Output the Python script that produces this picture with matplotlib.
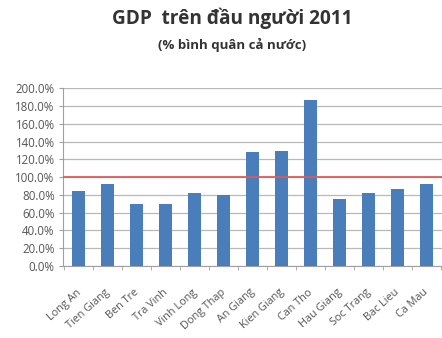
import matplotlib
matplotlib.use("Agg")
import matplotlib.pyplot as plt
import matplotlib.transforms as mtransforms
from matplotlib.ticker import FuncFormatter, MultipleLocator

provinces = ["Long An", "Tien Giang", "Ben Tre", "Tra Vinh", "Vinh Long", "Dong Thap",
             "An Giang", "Kien Giang", "Can Tho", "Hau Giang", "Soc Trang", "Bac Lieu", "Ca Mau"]
gdp_pct = [84.7, 91.9, 69.7, 69.7, 81.7, 79.5, 128.6, 129.4, 186.7, 75.4, 81.7, 86.6, 92.6]
reference_level = 100.0
title = "GDP  trên đầu người 2011"
subtitle = "(% bình quân cả nước)"

plt.rcParams['font.family'] = ['Open Sans', 'DejaVu Sans']

fig = plt.figure(figsize=(4.42, 3.38), dpi=100)
ax = fig.add_axes([0.1425, 0.213, 0.8575, 0.526])

x = range(len(provinces))
ax.bar(x, gdp_pct, width=0.45, color="#4a7ebb", zorder=3)
ax.axhline(reference_level, color="#e05a5a", lw=1.3, zorder=4)

ax.set_ylim(0, 200)
ax.set_xlim(-0.55, len(provinces) - 0.45)
ax.yaxis.set_major_locator(MultipleLocator(20))
ax.yaxis.set_major_formatter(FuncFormatter(lambda v, p: f"{v:.1f}%"))
ax.grid(axis="y", color="#b8b8b8", lw=0.9, zorder=0)
for s in ["top", "right"]:
    ax.spines[s].set_visible(False)
ax.spines["left"].set_color("#a0a0a0")
ax.spines["bottom"].set_color("#a0a0a0")
ax.tick_params(axis="y", labelsize=8.3, colors="#555555", length=3, color="#a0a0a0", pad=3)
ax.set_xticks(list(x))
ax.set_xticklabels(provinces, rotation=42, ha="right", rotation_mode="anchor", fontsize=7.8, color="#555555")
ax.tick_params(axis="x", length=0, pad=15)
offset = mtransforms.ScaledTranslation(-3 / 100, 0, fig.dpi_scale_trans)
for lab in ax.get_xticklabels():
    lab.set_transform(lab.get_transform() + offset)
# minor ticks between categories
ax.set_xticks([i + 0.5 for i in range(-1, len(provinces))], minor=True)
ax.tick_params(axis="x", which="minor", length=3, color="#a0a0a0")

fig.text(0.525, 0.945, title, ha="center", va="center", fontsize=13.7, fontweight="bold", color="#333333")
fig.text(0.525, 0.868, subtitle, ha="center", va="center", fontsize=9.5, fontweight="bold", color="#333333")

fig.savefig("out.png", dpi=100)
